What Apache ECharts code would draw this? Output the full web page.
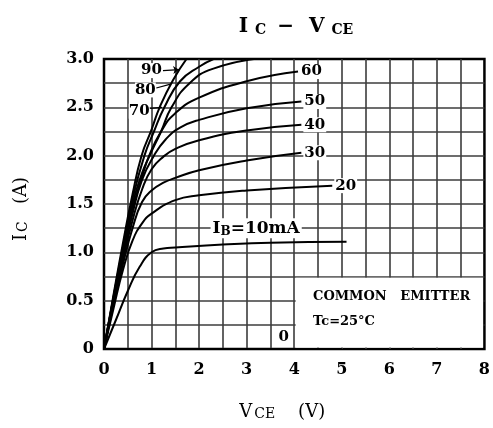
<!DOCTYPE html>
<html><head><meta charset="utf-8">
<script src="https://cdn.jsdelivr.net/npm/echarts/dist/echarts.min.js"></script>
<style>html,body{margin:0;padding:0;background:#fff}#c{width:493px;height:428px}</style>
</head><body><div id="c"></div>
<script>
// ---- data (V_CE in volts, I_C in amperes) ----
const xTicks = ['0','1','2','3','4','5','6','7','8'];
const yTicks = ['0','0.5','1.0','1.5','2.0','2.5','3.0'];
const ib0  = [[0,0],[5,0]];
const ib10 = [[0,0],[0.25,0.3],[0.5,0.6],[0.75,0.85],[1.0,1.0],[1.25,1.04],[1.5,1.05],[2.5,1.08],[3.5,1.1],[5.1,1.11]];
const ib20 = [[0,0],[0.2,0.42],[0.4,0.82],[0.6,1.12],[0.8,1.3],[1.0,1.4],[1.5,1.54],[2.0,1.59],[3.0,1.64],[4.8,1.69]];
const ib30 = [[0,0],[0.2,0.46],[0.4,0.88],[0.6,1.25],[0.8,1.52],[1.0,1.64],[1.25,1.72],[1.5,1.77],[2.0,1.85],[3.0,1.95],[4.15,2.03]];
const ib40 = [[0,0],[0.2,0.48],[0.4,0.93],[0.6,1.33],[0.8,1.65],[1.0,1.86],[1.25,1.99],[1.5,2.07],[2.0,2.16],[3.0,2.26],[4.15,2.32]];
const ib50 = [[0,0],[0.2,0.5],[0.4,0.97],[0.6,1.4],[0.8,1.75],[1.05,2.0],[1.3,2.17],[1.6,2.29],[2.0,2.37],[3.0,2.49],[4.15,2.56]];
const ib60 = [[0,0],[0.2,0.52],[0.4,1.0],[0.6,1.45],[0.8,1.78],[0.95,2.0],[1.2,2.25],[1.5,2.44],[2.0,2.6],[3.0,2.77],[4.08,2.87]];
const ib70 = [[0,0],[0.2,0.53],[0.4,1.03],[0.6,1.5],[0.8,1.82],[0.96,2.0],[1.2,2.25],[1.42,2.5],[1.8,2.75],[2.3,2.9],[3.3,3.01]];
const ib80 = [[0,0],[0.2,0.54],[0.4,1.06],[0.6,1.55],[0.85,2.0],[1.05,2.25],[1.27,2.5],[1.6,2.77],[2.0,2.92],[2.35,3.01]];
const ib90 = [[0,0],[0.2,0.56],[0.4,1.1],[0.6,1.6],[0.79,2.0],[1.0,2.27],[1.17,2.5],[1.45,2.78],[1.75,3.01]];
const ibNames = ['0','10','20','30','40','50','60','70','80','90'];

const F = '"DejaVu Serif", serif';
const lbl = {color:'#000', fontFamily:F, fontWeight:'bold', fontSize:15};

function curve(data, extra){
  return Object.assign({type:'line', data:data, smooth:0.5, symbol:'none',
    lineStyle:{color:'#000', width:2}, silent:true, animation:false, clip:true, z:3}, extra||{});
}
function endLbl(t){
  return {endLabel:{show:true, formatter:t, distance:2, backgroundColor:'#fff', padding:[0,1,0,1], ...lbl}};
}
function note(coord, text, pos, extraLabel){
  return {coord:coord, symbol:'rect', symbolSize:1, itemStyle:{color:'rgba(0,0,0,0)'},
    label:Object.assign({show:true, formatter:text, position:pos||'inside', ...lbl}, extraLabel||{})};
}
function leader(a,b){ return [{coord:a},{coord:b}]; }

const nameRich = {
  a:{fontFamily:F, fontSize:18, color:'#000', verticalAlign:'bottom', lineHeight:25},
  b:{fontFamily:F, fontSize:14, color:'#000', verticalAlign:'bottom', lineHeight:19, padding:[0,0,0,2]}
};

const chart = echarts.init(document.getElementById('c'));
chart.setOption({
  animation:false,
  backgroundColor:'#fff',
  title:{
    text:'{a|I}{b|C}{a| − }{a|V}{b|CE}', left:289, top:4, textAlign:'center',
    textStyle:{rich:{
      a:{fontFamily:F, fontSize:20, fontWeight:'bold', color:'#000', lineHeight:28, verticalAlign:'bottom', padding:[0,4,0,4]},
      b:{fontFamily:F, fontSize:14, fontWeight:'bold', color:'#000', lineHeight:22, padding:[0,0,0,3], verticalAlign:'bottom'}
    }}
  },
  grid:{left:104, right:5, top:59, bottom:79, show:true, borderColor:'#000', borderWidth:2.5, backgroundColor:'#fff'},
  xAxis:{type:'value', min:0, max:8, interval:0.5,
    name:'{a|V}{b|CE}{a|    (V)}', nameLocation:'middle', nameGap:47,
    nameTextStyle:{padding:[0,24,0,0], rich:nameRich},
    axisLine:{show:false}, axisTick:{show:false},
    axisLabel:{margin:13, ...lbl, fontSize:16, formatter:v => (Math.abs(v-Math.round(v))<1e-6 ? xTicks[Math.round(v)] : '')},
    splitLine:{show:true, showMinLine:false, showMaxLine:false, lineStyle:{color:'#3c3c3c', width:1.6}}
  },
  yAxis:{type:'value', min:0, max:3, interval:0.25,
    name:'{a|I}{b|C}{a|   (A)}', nameLocation:'middle', nameGap:74, nameRotate:90,
    nameTextStyle:{padding:[0,10,0,0], rich:nameRich},
    axisLine:{show:false}, axisTick:{show:false},
    axisLabel:{margin:10, ...lbl, fontSize:16, formatter:v => {const k=v/0.5; return Math.abs(k-Math.round(k))<1e-6 ? yTicks[Math.round(k)] : '';}},
    splitLine:{show:true, showMinLine:false, showMaxLine:false, lineStyle:{color:'#3c3c3c', width:1.6}}
  },
  series:[
    curve(ib0, {z:2,
      markArea:{silent:true, itemStyle:{color:'#fff', opacity:1}, data:[[{coord:[4.03,0.015]},{coord:[7.97,0.737]}]]},
      markPoint:{silent:true, data:[
        note([3.78,0.12], ibNames[0], 'inside', {backgroundColor:'#fff', padding:[0,1,0,1]}),
        note([4.28,0.54], 'COMMON   EMITTER', 'right', {fontSize:13, fontWeight:'bold'}),
        note([4.28,0.285], 'Tc=25°C', 'right', {fontSize:13, fontWeight:'bold'})
      ]}
    }),
    curve(ib10, {markPoint:{silent:true, data:[
      note([3.2,1.25], 'I{s|B}=10mA', 'inside', {fontSize:17, backgroundColor:'#fff', padding:[0,2,0,2],
        rich:{s:{fontFamily:F, fontSize:12, fontWeight:'bold', color:'#000', padding:[8,0,0,0]}}})
    ]}}),
    curve(ib20, endLbl(ibNames[2])),
    curve(ib30, endLbl(ibNames[3])),
    curve(ib40, endLbl(ibNames[4])),
    curve(ib50, endLbl(ibNames[5])),
    curve(ib60, endLbl(ibNames[6])),
    curve(ib70, {
      markLine:{silent:true, symbol:['none','none'], lineStyle:{color:'#000', width:1.2, type:'solid'}, label:{show:false},
        data:[leader([0.97,2.49],[1.22,2.5])]},
      markPoint:{silent:true, data:[note([0.74,2.46], ibNames[7], 'inside', {backgroundColor:'#fff'})]}
    }),
    curve(ib80, {
      markLine:{silent:true, symbol:['none','none'], lineStyle:{color:'#000', width:1.2, type:'solid'}, label:{show:false},
        data:[leader([1.1,2.7],[1.4,2.74])]},
      markPoint:{silent:true, data:[note([0.87,2.68], ibNames[8], 'inside', {backgroundColor:'#fff'})]}
    }),
    curve(ib90, {
      markLine:{silent:true, symbol:['none','arrow'], symbolSize:6, lineStyle:{color:'#000', width:1.2, type:'solid'}, label:{show:false},
        data:[leader([1.24,2.88],[1.58,2.89])]},
      markPoint:{silent:true, data:[note([1.0,2.88], ibNames[9], 'inside', {backgroundColor:'#fff'})]}
    })
  ]
});
</script></body></html>
